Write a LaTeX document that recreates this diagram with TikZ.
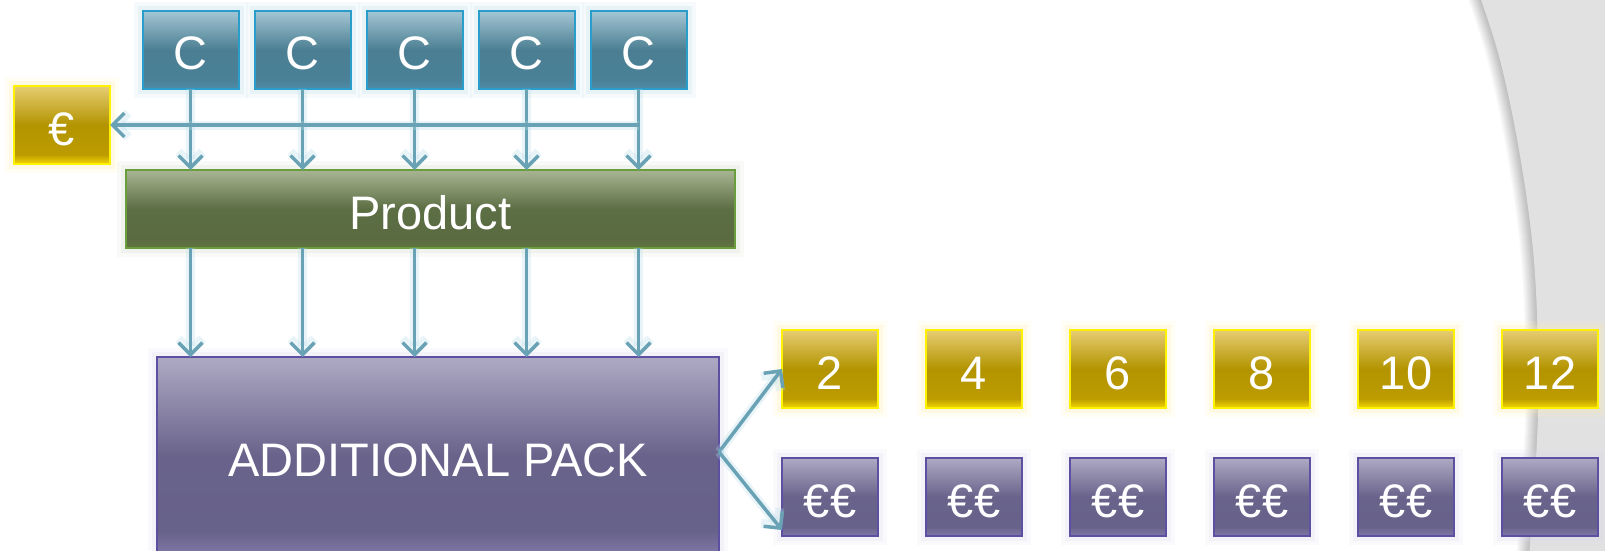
\documentclass[tikz,border=0pt]{standalone}
\usepackage{fontspec}
\setmainfont{Liberation Sans}
\usetikzlibrary{arrows.meta}

% palette
\definecolor{cBorder}{HTML}{2A9DCB}
\definecolor{cTop}{HTML}{A3C6D4}
\definecolor{cMid}{HTML}{4B7E92}
\definecolor{cLow}{HTML}{4A8198}
\definecolor{cBot}{HTML}{4E8DA8}
\definecolor{cGlow}{HTML}{B8DDEA}
\definecolor{yBorder}{HTML}{FFF200}
\definecolor{yTop}{HTML}{E6CD72}
\definecolor{yMid}{HTML}{B39400}
\definecolor{yLow}{HTML}{BD9C00}
\definecolor{yBot}{HTML}{F5D700}
\definecolor{yGlow}{HTML}{FFEFA8}
\definecolor{gBorder}{HTML}{6A9D3C}
\definecolor{gTop}{HTML}{A8B593}
\definecolor{gMid}{HTML}{5C6E44}
\definecolor{gLow}{HTML}{5A6B41}
\definecolor{gBot}{HTML}{607641}
\definecolor{gGlow}{HTML}{D3DBC8}
\definecolor{pBorder}{HTML}{5D50A2}
\definecolor{pTop}{HTML}{AEA9C3}
\definecolor{pMid}{HTML}{69638B}
\definecolor{pLow}{HTML}{67628A}
\definecolor{pBot}{HTML}{8078A8}
\definecolor{pGlow}{HTML}{DCD8EE}
\definecolor{arrowc}{HTML}{6AA2B5}
\definecolor{shelfgrey}{HTML}{E1E1E1}

% vertical gradients: name, top, middle, lower, bottom
\newcommand\boxshading[5]{%
  \pgfdeclareverticalshading{#1}{100bp}{color(0bp)=(#5); color(25bp)=(#5);
    color(31bp)=(#4); color(50bp)=(#3); color(75bp)=(#2); color(100bp)=(#2)}}
\boxshading{cshade}{cTop}{cMid}{cLow}{cBot}
\boxshading{yshade}{yTop}{yMid}{yLow}{yBot}
\boxshading{gshade}{gTop}{gMid}{gLow}{gBot}
\boxshading{pshade}{pTop}{pMid}{pLow}{pBot}

% grey panel on the right with its curved edge
\newcommand\greyshelf[1]{%
  \fill[#1] plot[smooth, tension=0.6] coordinates
    {(1479,-6) (1500,60) (1519,150) (1533,250) (1538,350) (1537,440) (1529,557)}
    -- (1612,557) -- (1612,-6) -- cycle;}

\tikzset{
  boxglow/.style={preaction={draw=#1, line width=18pt, opacity=0.12},
                  preaction={draw=#1, line width=10pt, opacity=0.22}},
  box/.style={rectangle, minimum width=96pt, minimum height=78pt,
              inner sep=0pt, outer sep=0pt, line width=2pt, text=white,
              text height=40pt, text depth=0pt,
              font=\fontsize{47}{56}\selectfont},
  cbox/.style={box, boxglow=cGlow, draw=cBorder, shade, shading=cshade},
  ybox/.style={box, boxglow=yGlow, draw=yBorder, shade, shading=yshade},
  gbox/.style={box, boxglow=gGlow, draw=gBorder, shade, shading=gshade},
  pbox/.style={box, boxglow=pGlow, draw=pBorder, shade, shading=pshade},
  arr/.style={draw=arrowc, line width=3.5pt,
              preaction={draw=cGlow, line width=9pt, opacity=0.3},
              -{Straight Barb[length=12pt, width=24pt]}},
}

\begin{document}
\begin{tikzpicture}[x=1pt, y=-1pt]
  \useasboundingbox (0,0) rectangle (1605,551);
  \clip (0,0) rectangle (1605,551);
  \fill[white] (0,0) rectangle (1605,551);

  % soft shadow along the curved edge, then the panel itself
  \foreach \k in {1,...,13} {\greyshelf{black, opacity=0.02, xshift=-\k pt}}
  \greyshelf{shelfgrey}

  % suppliers
  \node[cbox] (c1) at (190.5,50) {C};
  \node[cbox] (c2) at (302.5,50) {C};
  \node[cbox] (c3) at (414.5,50) {C};
  \node[cbox] (c4) at (526.5,50) {C};
  \node[cbox] (c5) at (638.5,50) {C};

  \node[ybox] (eur) at (62,125) {€};

  \node[gbox, minimum width=609pt] (prod) at (430.5,209) {Product};

  \node[pbox, minimum width=562pt, minimum height=198pt] (pack) at (438,456)
       {ADDITIONAL PACK};

  % quantities and prices
  \node[ybox] (q1) at (830,369) {2};
  \node[ybox] (q2) at (974,369) {4};
  \node[ybox] (q3) at (1118,369) {6};
  \node[ybox] (q4) at (1262,369) {8};
  \node[ybox] (q5) at (1406,369) {10};
  \node[ybox] (q6) at (1550,369) {12};

  \node[pbox] (e1) at (830,497) {€€};
  \node[pbox] (e2) at (974,497) {€€};
  \node[pbox] (e3) at (1118,497) {€€};
  \node[pbox] (e4) at (1262,497) {€€};
  \node[pbox] (e5) at (1406,497) {€€};
  \node[pbox] (e6) at (1550,497) {€€};

  % connectors
  \foreach \c in {c1,c2,c3,c4,c5} {
    \draw[arr] (\c) -- (\c |- prod.north);
    \draw[arr] (\c |- prod.south) -- (\c |- pack.north);
  }
  \coordinate (split) at (c5 |- eur);
  \draw[arr] (split) -- (eur.east);

  \draw[arr] ([yshift=4pt]pack.east) -- (q1.west);
  \draw[arr] ([yshift=4pt]pack.east) -- ([yshift=6pt]e1.south west);
\end{tikzpicture}
\end{document}
